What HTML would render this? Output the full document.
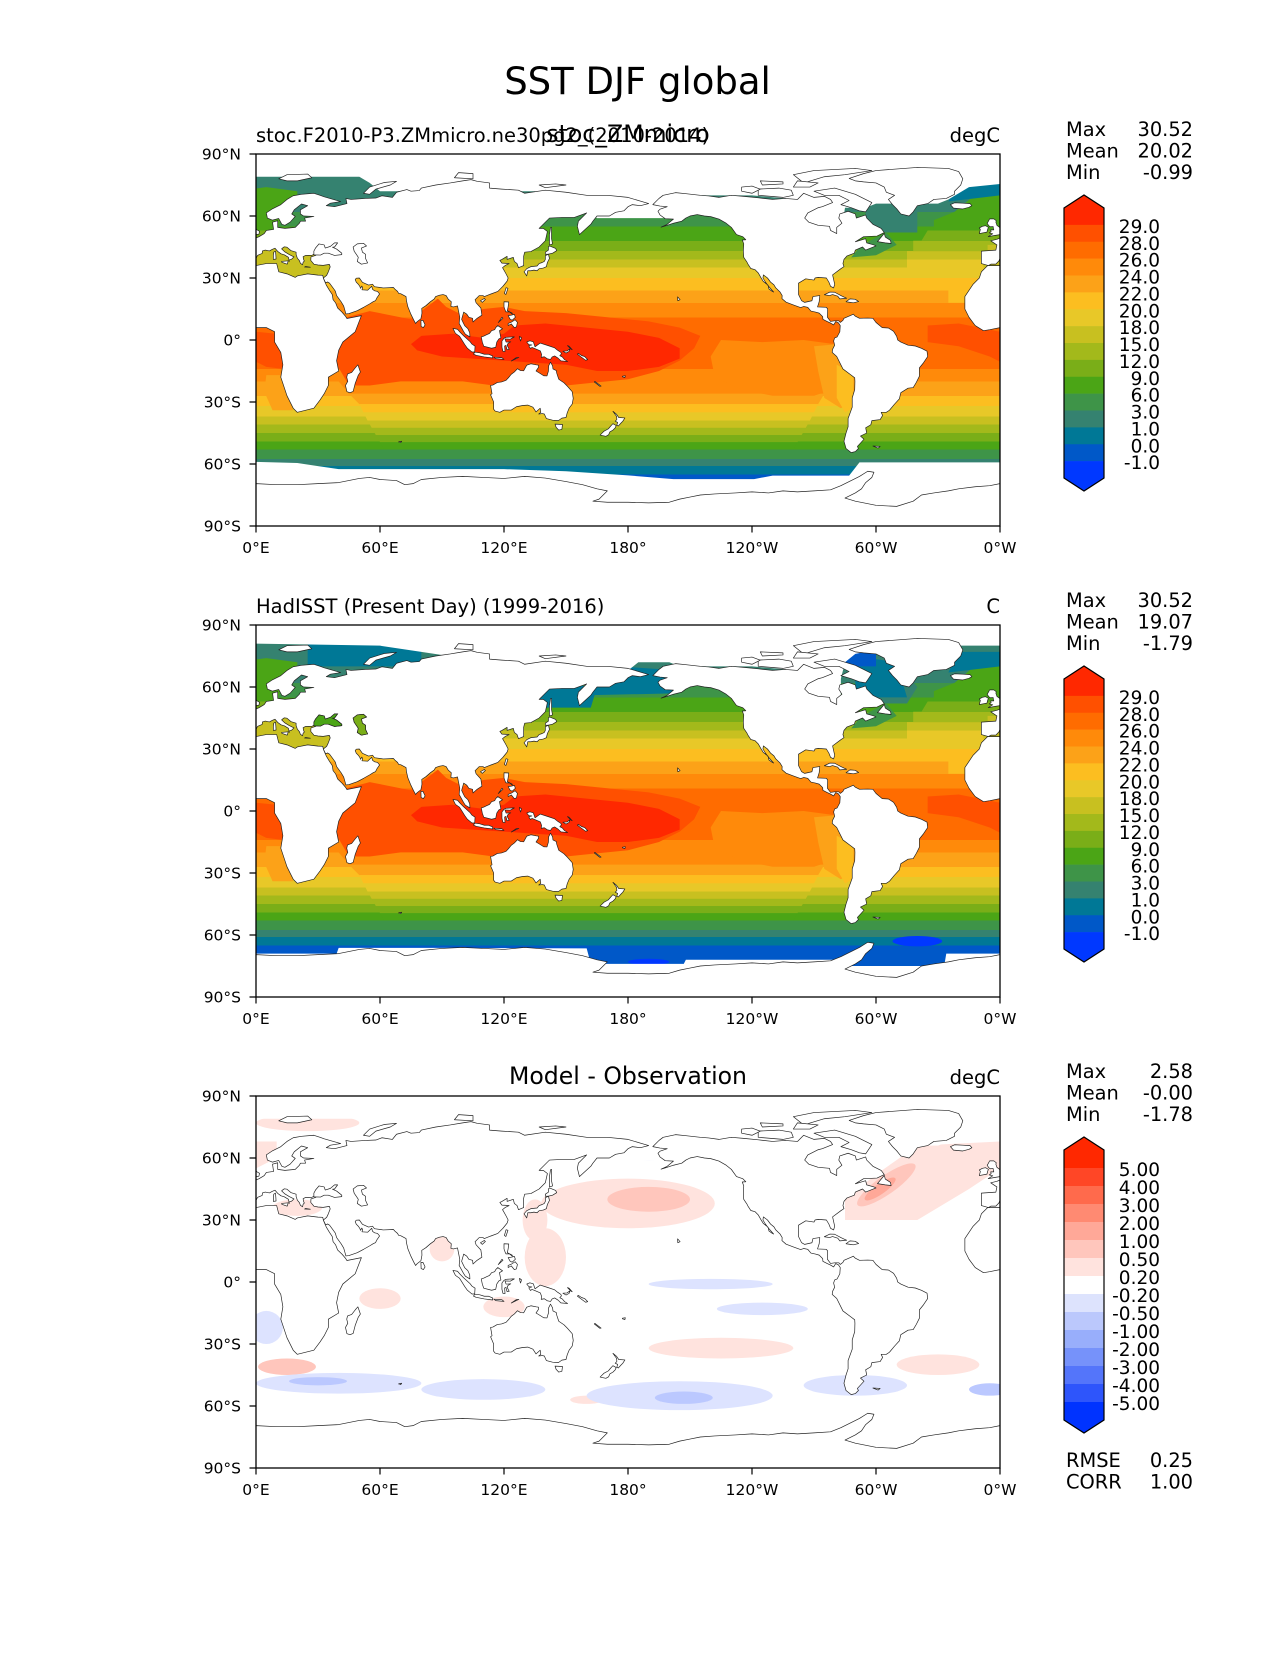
<!DOCTYPE html>
<html><head><meta charset="utf-8">
<style>
html,body{margin:0;padding:0;background:#fff}
svg text{font-family:"DejaVu Sans","Liberation Sans",sans-serif;fill:#000}
</style></head>
<body>
<svg width="1275" height="1650" viewBox="0 0 1275 1650" xmlns="http://www.w3.org/2000/svg">
<defs>
<linearGradient id="zg" gradientUnits="userSpaceOnUse" x1="0" y1="90" x2="0" y2="-90">
<stop offset="0" stop-color="#358270"/><stop offset=".1556" stop-color="#358270"/>
<stop offset=".1556" stop-color="#3e9448"/><stop offset=".1944" stop-color="#3e9448"/>
<stop offset=".1944" stop-color="#4ba516"/><stop offset=".2333" stop-color="#4ba516"/>
<stop offset=".2333" stop-color="#7aae18"/><stop offset=".2611" stop-color="#7aae18"/>
<stop offset=".2611" stop-color="#a3b91b"/><stop offset=".2833" stop-color="#a3b91b"/>
<stop offset=".2833" stop-color="#c8c020"/><stop offset=".3056" stop-color="#c8c020"/>
<stop offset=".3056" stop-color="#e8c828"/><stop offset=".3333" stop-color="#e8c828"/>
<stop offset=".3333" stop-color="#fcbe20"/><stop offset=".3667" stop-color="#fcbe20"/>
<stop offset=".3667" stop-color="#fca218"/><stop offset=".4" stop-color="#fca218"/>
<stop offset=".4" stop-color="#ff8a0a"/><stop offset=".4389" stop-color="#ff8a0a"/>
<stop offset=".4389" stop-color="#ff6c00"/><stop offset=".5778" stop-color="#ff6c00"/>
<stop offset=".5778" stop-color="#ff8a0a"/><stop offset=".6111" stop-color="#ff8a0a"/>
<stop offset=".6111" stop-color="#fca218"/><stop offset=".65" stop-color="#fca218"/>
<stop offset=".65" stop-color="#fcbe20"/><stop offset=".6778" stop-color="#fcbe20"/>
<stop offset=".6778" stop-color="#e8c828"/><stop offset=".7056" stop-color="#e8c828"/>
<stop offset=".7056" stop-color="#c8c020"/><stop offset=".7278" stop-color="#c8c020"/>
<stop offset=".7278" stop-color="#a3b91b"/><stop offset=".75" stop-color="#a3b91b"/>
<stop offset=".75" stop-color="#7aae18"/><stop offset=".7722" stop-color="#7aae18"/>
<stop offset=".7722" stop-color="#4ba516"/><stop offset=".7944" stop-color="#4ba516"/>
<stop offset=".7944" stop-color="#3e9448"/><stop offset=".8194" stop-color="#3e9448"/>
<stop offset=".8194" stop-color="#358270"/><stop offset=".8389" stop-color="#358270"/>
<stop offset=".8389" stop-color="#007896"/><stop offset=".8611" stop-color="#007896"/>
<stop offset=".8611" stop-color="#0058c8"/><stop offset="1" stop-color="#0058c8"/>
</linearGradient>

<g id="shshift">
<polygon fill="#ff8a0a" points="40,-20 275,-20 275,-26 45,-26"/>
<polygon fill="#fca218" points="45,-26 275,-26 272,-31 50,-31"/>
<polygon fill="#fcbe20" points="50,-31 272,-31 270,-35 52,-35"/>
<polygon fill="#e8c828" points="52,-35 270,-35 268,-39 54,-39"/>
<polygon fill="#c8c020" points="54,-39 268,-39 266,-42.5 56,-42.5"/>
<polygon fill="#a3b91b" points="56,-42.5 266,-42.5 264,-46 58,-46"/>
<polygon fill="#7aae18" points="58,-46 264,-46 262,-49.5 60,-49.5"/>
<polygon fill="#4ba516" points="60,-49.5 262,-49.5 260,-53 62,-53"/>
</g>

<g id="trop">
<polygon fill="#ff5000" points="40,10 55,14 65,12 75,10 80,14 88,20 92,16 100,12 110,15 120,16 130,14 150,13 170,11 190,9 205,6 215,2 212,-4 205,-10 195,-15 180,-19 160,-21 150,-22 140,-21 125,-19 115,-22 100,-20 85,-20 70,-20 55,-22 45,-22 38,-10"/>
<polygon fill="#ff2800" points="75,-2 80,2 95,3 110,1 120,3 125,7 140,8 160,6 180,4 195,1 205,-4 205,-9 195,-13 180,-15 165,-15 150,-12 135,-11 120,-10 105,-9 90,-8 78,-5"/>
<polygon fill="#ff8a0a" points="225,0 245,-1 265,0 280,-2 285,-10 285,-22 270,-27 250,-27 235,-24 222,-18 220,-8"/>
<polygon fill="#fca218" points="270,-3 282,-2 287,-8 290,-18 289,-30 283,-33 275,-28 272,-15"/>
<polygon fill="#fcbe20" points="281,-12 289,-16 289,-33 285,-35 281,-28"/>
</g>

<g id="wrapov">
<polygon fill="#e8c828" points="-45,33 -8,33 -8,39 -45,39"/>
<polygon fill="#c8c020" points="-45,39 -5,39 0,43 -45,43"/>
<polygon fill="#a3b91b" points="-42,43 0,43 5,48 -42,48"/>
<polygon fill="#7aae18" points="-38,48 5,48 10,53 -35,53"/>
<polygon fill="#4ba516" points="-32,53 10,53 12,58 20,66 20,72 5,74 -10,72 -22,62 -32,58"/>
<polygon fill="#358270" points="-65,52 -45,52 -40,60 -45,66 -60,66"/>
<polygon fill="#3e9448" points="-72,40 -60,41 -50,46 -55,52 -67,46"/>
<polygon fill="#007896" points="-25,67 0,70 0,77 -20,77"/>
<polygon fill="#ff5000" points="-35,7 -20,8 -10,6 0,4 10,3 12,-4 13,-14 5,-13 -5,-8 -20,-3 -35,-1"/>
<polygon fill="#fca218" points="5,-17 12,-17 16,-28 18,-34 8,-34 4,-25"/>
<polygon fill="#fcbe20" points="-25,18 -16,18 -10,30 -25,30"/>
<polygon fill="#c8c020" points="-6,30 36,30 36,46 -6,46"/>
</g>

<g id="land" fill="#fff" stroke="#222" stroke-width="0.33" stroke-linejoin="round">
<polygon points="-6,36 -9,33 -10,30 -13,27 -17,21 -17,15 -15,11 -12,7 -8,4.5 -5,5 0,6 5,6 9,4 9,-1 12,-6 13,-12 12,-18 15,-27 18,-33 20,-35 28,-33 31,-29 33,-26 35,-22 35,-18 40,-15 39,-10 40,-5 42,-1 48,4 51,11.8 48,11.2 44,10.4 43.3,11.5 41.6,13.5 39.5,15.5 38.5,18 37.3,19.5 36.9,22 35.5,24.1 34,26.6 32.6,29.9 32.3,31.3 30,31.4 25,32 20,31 19,30.3 15,32 11,33 10,37 5,37 0,36"/>
<polygon points="-5.6,36 -9,37 -9,43 -2,43.5 -1.5,46 -4.5,48 -1.5,48.7 1.5,50 4,51.5 5,53 8.5,53.5 8,57 10.5,57.7 10.5,54.5 14,54 19,54.5 21,56.5 21.5,57.5 24,57.5 23.5,59 28,59.8 23,60 21.5,61 21.5,63 25,65 22,65.8 18.5,63 17.3,61 19,59.8 16.5,57 14,55.5 12.5,56 11,58.8 8,58 5.5,59 5,61.5 8,63.5 12,65.5 15,68 18,69.8 22,70.5 28,71 31,70 33,69.3 41,67 36,66.2 34,65 38,64.5 44,66 43.5,68.5 46,68 53,68.5 58,68.7 61,69.8 66,69 68,71.5 73,72.8 75,72 79,72.3 80,73.5 87,75 94,76 100,77 104,77.6 107,76.8 113,76 113,73.5 119,73 127,72.5 130,71 140,72.5 150,71.5 160,70 170,70 180,69 190,66 186,65 182,65.5 180,64.5 178,62.5 174,61.8 171,60 165,60 163,57.5 162,56 156.5,51 155.5,55 156,57.5 160,61.5 154,59.3 148,59.3 142,59 137,54 139,54 141,52.5 140,48 137,45 133,42.8 130,42.5 129.5,40.5 129.5,36 127,35 126.3,37 125,38 124.5,40 121.5,39 121.5,40.5 119,39 118,38.5 119,37.2 122.5,37 120.5,36 119.3,35 121,32 122,30 121.5,28.5 119.5,26 117,23.5 113.5,22.2 110.5,21 109.8,21.5 108,21.5 106,19.5 106.5,18 108.8,15.5 109.3,12 107,10.5 105,8.7 104.8,10.5 103,11 102,12.5 100.5,13.5 99.5,10 100.2,8.5 101,6.9 102.5,5.5 103.4,3.5 103.5,1.5 101.3,2.8 100.4,4.2 98.3,8 98.6,11 97.5,16.5 95.5,16 94.3,16.3 94.5,18.5 93,19.8 92,21.5 90.5,22 88.8,21.7 86.9,21 86.2,19.8 84.5,18.6 82.2,16.6 80.2,15.3 80.3,13 79.8,10.3 78,8.9 77.2,8 76.3,9.7 74.8,12.8 73.5,16 72.8,19 72.6,21 70,22.4 69,22.6 68.5,23.5 67.2,24.6 66.5,25.4 61.6,25.2 57.3,25.8 56.4,27 54.5,26.6 51.5,27.9 50,30 48.5,29.9 48,29.2 48.5,28 49.5,27 50.2,26 50.6,25 51.2,26.1 51.6,25.3 51.3,24.3 54,24.1 56,26 56.4,24.5 57.4,23.8 58.8,23.5 59.8,22.3 58.5,20.4 57.8,19 56.8,18.6 55.2,17.6 52.2,15.9 49,14.2 45,12.8 43.5,12.6 42.7,15.5 42.4,16.5 41.2,18.5 39,21.5 38.4,23.6 37.5,24.9 35.6,27.5 34.6,28.1 34.2,27.8 33.5,28 32.6,30 34.2,31.3 35,33 35.9,35.4 35.5,36.6 32.5,36.1 30,36.3 28,36.7 26.5,38.5 26.6,40.2 29,41 28,41.6 27.2,41 24,40.9 22.8,40.3 23,39 23.4,38.2 22.8,37.6 22.5,36.4 21.5,37.1 21,38.4 20,39.6 19.4,41.4 19.4,42.5 17,43.2 15,44.9 13.7,45.1 12.6,44.3 12.4,44.1 14,42.6 16,41.4 18.4,40.2 17.2,39.1 16.6,38.9 15.9,38.6 16.1,38 15.7,40 13.7,41.2 12.1,41.7 10.5,42.9 9.2,44.4 7.8,43.8 6.5,43.1 4.5,43.5 3.1,43.1 3,41.9 0.8,41 0,39.5 -0.5,38.3 -2,36.7 -4.4,36.7"/>
<polygon points="28,41.2 28,43 28.8,44.5 30.5,46.5 33,46 33.5,44.5 36,45.3 38,47 39.5,47 38,45 37,44.9 39,44 41.5,42 41.5,41.3 38,40.9 35,42 33,42 31.2,41.1"/>
<polygon points="47,45 49,46.5 52,46.8 53.5,45.5 51,44.5 51.5,42.5 53,41.5 53,39.5 54,37.3 51,36.7 49,38 49.5,40 48.5,41.5 47.5,43"/>
<polygon points="12.4,38 15.6,38.3 15.1,36.7 12.5,37.6"/>
<polygon points="8.4,39 9.7,39.2 9.6,41 9.4,43 8.6,42.5 8.4,40.9"/>
<polygon points="23.5,35.3 26.3,35.2 24,35.6"/>
<polygon points="-5.7,50 -3,50.5 1.4,51.2 1.7,52.6 0.3,53.4 -0.2,54.5 -1.5,55.5 -2,57 -1.8,57.7 -3,58.6 -5,58.6 -5.7,57.3 -6.2,56.5 -5.5,55.4 -4.8,54.8 -3.3,54.9 -3.2,53.9 -3,53.3 -4.5,53.3 -4.3,52.4 -5.2,51.8 -3.5,51.4"/>
<polygon points="-10,51.5 -6.3,52.2 -6,53.5 -5.6,54.5 -7,55.3 -8.5,55 -10,54.2 -9.5,53.5"/>
<polygon points="-24,65.5 -22,66.4 -18,66.2 -14.5,66 -13.6,65 -15,64.2 -18,63.4 -22.5,63.8"/>
<polygon points="-73,78.2 -66,80.5 -60,82 -40,83.5 -25,83 -20,81.5 -18,78 -19,75 -22,72 -22,70.5 -26,68.5 -32,68 -35,66 -40,65 -42,62 -44,60 -48,61 -50,63.5 -52,65.5 -54,68 -51,70 -55,71.5 -56,74 -60,76 -66,76.5 -70,77"/>
<polygon points="11,78 15,80 25,80.3 27,78.5 20,77 15,77"/>
<polygon points="52,71 55,74 62,76.2 68,76.8 65,75 58,73 55,70.5"/>
<polygon points="96,78.5 105,78 105,80.5 98,81"/>
<polygon points="137,75 145,75.5 150,75 140,73.7"/>
<polygon points="129.7,33 131,31 131.5,33.5 133,33.5 134.5,33.8 136,33.5 137,34.5 139,34.8 140.5,35.5 141,37.5 142,39.5 141.5,41.5 140,40.8 140,39 139.5,38 138.5,37.5 137,37 136,35.8 133,35.5 131,34.5"/>
<polygon points="140,41.5 141.3,41.5 143.5,42 145.5,43.2 145,44.3 142,45.5 141.5,45 141.5,43.5 140,42.5"/>
<polygon points="142,46 143.5,46.5 143,49 143,52 143,54.5 142.5,54.3 142,51 142,48"/>
<polygon points="120.2,22.5 121,25.3 121.9,25 120.9,22"/>
<polygon points="108.6,19 109.5,18.2 111,19.6 110.5,20.1"/>
<polygon points="120,18.5 122.3,18.4 122,16 121.6,14.2 124,13 124,12.5 122.6,13.6 121,13.6 120.6,14.3 120,16"/>
<polygon points="122,11.8 123,10 124,9.6 125.5,11 125,12.4 123.5,12"/>
<polygon points="122,7 123.5,7.8 125,6 126,6.3 126.5,8.5 125.4,9.8 123.5,8.6 122,8"/>
<polygon points="117.2,8.4 119.5,10.5 119,11"/>
<polygon points="109,1.5 109.5,-1 110.2,-3 114,-4 116,-3.5 116.5,-1 117.5,0.5 118.5,1 117.8,4.5 119.3,5.4 117,7 116,6 115.5,5 114,4.5 113,3.2 111.5,2.5 110,1.8"/>
<polygon points="95.3,5.6 97.5,5.2 98.7,3.8 100.5,2 103.5,-0.7 104.5,-2 106,-3 105.8,-5.8 104.5,-5.8 102.3,-4 101,-2.2 99.5,0.2 98.5,1.8 96.5,3.2"/>
<polygon points="105.2,-6.8 106,-5.9 108.3,-6.2 110.5,-6.9 112.6,-6.9 114.5,-7.7 114.5,-8.7 110.5,-8.2 106.5,-7.4"/>
<polygon points="115,-8.3 119,-8.6 120,-9.4 116,-9"/>
<polygon points="123.5,-10.2 127.2,-8.4 126,-8.5"/>
<polygon points="119.5,-5.5 119,-3.5 119,-0.5 120,0.8 121,1.3 124.5,1.5 125,1.5 123,0.4 120.5,0.5 121,-1 123.3,-0.9 122,-1.6 121.5,-2.5 122.5,-4.5 121.5,-4.7 120.9,-2.6 120.3,-2.9 120.5,-5.6"/>
<polygon points="127.5,1.8 128.5,1 128,-0.5 127.7,0.5"/>
<polygon points="131,-1 132.5,-0.4 134.2,-0.9 135,-3.3 137.5,-1.5 141,-2.6 144.5,-3.8 146,-5 147.5,-6 147.8,-6.7 147,-7.6 148.2,-8.2 149.3,-9.5 150.8,-10.4 149.7,-10.3 147.5,-10.1 146.2,-8.8 144.5,-7.7 143.3,-8.2 142.5,-9.4 141,-9.1 139.5,-8.1 138,-8.4 138.2,-7 137.6,-5.3 135.5,-4.4 133.6,-3.6 132.8,-4.1 132,-2.8 133.5,-2.4 132,-2.2"/>
<polygon points="148.5,-5.4 150.5,-5.3 152,-4.2 151.5,-5.5 150,-6.3"/>
<polygon points="150.7,-2.7 152.5,-4.5 153,-4.7 151.5,-3"/>
<polygon points="156,-6.5 157.5,-7.5 159,-8 160.5,-9.5 159.5,-9.8 157,-8 155.5,-6.8"/>
<polygon points="164,-20 167,-22.3 166.4,-22.4 163.7,-20.3"/>
<polygon points="177.3,-17.5 178.7,-17.3 178.5,-18.2 177.3,-17.8"/>
<polygon points="113.5,-22 114.2,-26 113.5,-26.5 115,-30 115,-33.5 115.7,-34.4 118,-35 120,-33.9 123.5,-33.9 126,-32.3 129,-31.7 131.5,-31.5 134,-32.5 135.5,-34.8 137.5,-33 137.8,-35 136.8,-35.8 138.5,-35.6 139.5,-35.8 140.5,-38 143.5,-38.8 146.3,-39 148,-37.8 150,-37.5 150.6,-35.2 151.5,-33 153,-31 153.5,-28.3 153,-25 150.8,-22.5 149,-20.7 146.5,-19 145.5,-16 145.3,-14.8 143.7,-14 143.5,-12.5 142.5,-10.7 141.6,-12.5 141.5,-15 140.8,-17.4 139.2,-17.3 137.5,-16.2 135.5,-15 136.7,-13.2 136.7,-12.2 135.5,-12 133,-11.5 131,-12.2 129.5,-14.9 128,-14.8 126.5,-13.9 125,-15.5 123.5,-16.6 122.2,-18.2 121,-19.5 118.8,-20.3 116.7,-20.6 114.6,-21.8"/>
<polygon points="144.7,-40.7 148.3,-40.9 148,-43.2 146.5,-43.6 145.2,-42.2"/>
<polygon points="172.7,-34.5 174.5,-36 175.5,-37.5 178.5,-37.7 177.5,-39.3 176.8,-40 175.3,-41.6 174.6,-41.2 175,-39.9 173.8,-39.3 174.6,-38.5 174.5,-37"/>
<polygon points="172.7,-40.5 174.3,-41.4 173.8,-42.5 172.7,-43.6 171.2,-44.5 170.6,-45.9 169.3,-46.6 166.5,-46 168.3,-44.2 170.5,-43 171.5,-41.8"/>
<polygon points="43.3,-22 44,-25 45.5,-25.5 47,-24.9 48,-21 49.5,-17 50.5,-15.5 49.3,-12 48,-13.5 46.3,-15.7 44.3,-16.4 43.9,-18 44.4,-20"/>
<polygon points="79.9,6.5 79.8,9.5 80.8,9.5 81.8,7.3 81,6"/>
<polygon points="69,-49.3 70.5,-49 70,-49.7"/>
<polygon points="-168,65.5 -165,68.5 -163,70 -157,71.3 -152,70.8 -145,70 -141,69.7 -136,69 -130,70 -124,69.5 -117,68.8 -110,68 -104,68.5 -98,68 -95,71 -90,69 -85,69.5 -82,68 -81,66.5 -86,64.5 -88,64 -93,61.5 -94.5,59 -92.5,57 -88,55.5 -82.5,55 -82,53 -79,51.5 -79,54.5 -76.5,56.5 -78,59 -77.5,61 -73.5,62.3 -70,61 -69.5,59 -65,60.5 -64.5,59 -61.5,56 -57.5,54 -56,52 -59.5,50.3 -66,50 -70,47.5 -65,49 -64.5,47 -61,46 -60,45.5 -65,43.5 -66.5,45 -70,43.5 -70.5,42 -74,40.7 -75.5,39 -76,37 -75.5,35.5 -77,34.5 -81,31.5 -80,27 -80.5,25.2 -82,26 -82.8,28 -84,30 -88,30.3 -89.5,30 -90,29 -94,29.6 -97.5,27.5 -97.5,25 -97.5,22 -96,19 -94.5,18.2 -91,19 -90.5,21 -87.2,21.5 -87.5,18.5 -88.3,16 -84,15.8 -83.4,15 -83.5,11 -82,9 -80,9.3 -78,9.3 -77.3,8.5 -76,9.5 -75.5,10.5 -72,12 -71,12.5 -70,11.5 -68,10.5 -64,10.6 -61.5,10.5 -60,8.5 -57,6 -54,5.8 -51.5,4.2 -50,1.8 -49.5,0 -48,-1 -44.5,-2.5 -41,-2.9 -38,-4 -35.3,-5.4 -35,-8 -37,-11 -39,-13.5 -39,-17.5 -40.5,-20.5 -42,-23 -44.5,-23.3 -48,-25.5 -48.7,-28.5 -51,-31 -53.5,-34 -55,-35 -57.5,-35 -56.8,-36.5 -58,-38.5 -62,-39 -62.5,-41 -65,-42.5 -64.5,-45 -67.5,-46.5 -65.8,-48 -69,-51.5 -68.5,-52.5 -70,-54 -72,-54.5 -74.5,-52.5 -75.5,-49 -74.5,-45 -73.5,-42 -73.5,-38 -71.5,-32.5 -71.5,-28 -70.3,-24 -70.2,-20 -70.3,-18.3 -72,-17 -76,-14 -77,-12 -79,-8 -81.2,-6 -81,-4.5 -80,-2.5 -80.5,-0.5 -80,1 -78.8,1.5 -77.5,4 -77.3,7 -78.2,8.3 -79.5,8.9 -80.5,7.3 -82,8.2 -83.7,9 -85.7,10 -85.8,11.3 -87.5,13 -89.3,13.5 -91.5,14 -93,15.8 -95,16.2 -96.5,15.7 -99.5,16.8 -103.5,18.3 -105.5,20 -105.4,21.5 -106.5,23.3 -108.5,25.2 -109.4,26.7 -111,28 -112.5,30 -114.5,31.5 -114.7,30 -113.5,28 -112,26 -110.5,24.3 -109.5,23.2 -110.3,23.6 -111.8,24.7 -112.2,26.5 -114.5,28.3 -115.7,30.2 -117,32.5 -118.5,34 -120.6,34.6 -121.9,36.6 -122.5,37.8 -124,40 -124.2,43 -124,46.5 -124.7,48.4 -123,48.5 -124.5,50 -127.5,51 -130,54.5 -132.5,56.5 -136,58.5 -140,59.7 -143,60 -146.5,60.7 -150,60 -152,59 -154,57.5 -158,56.5 -162,55.2 -164,54.6 -161,56 -158,58.5 -162,58.7 -164.5,60.5 -165.5,62.3 -164.5,63.3 -161,64.5 -164.5,64.8"/>
<polygon points="-90,72 -80,73.5 -70,70.5 -67,69 -62,66.5 -64,63.5 -65,62 -68,62.5 -72,64 -77,65.5 -73,67.5 -78,70 -85,70"/>
<polygon points="-95,76 -85,79 -75,80 -62,82 -70,83 -90,82 -100,80"/>
<polygon points="-117,70 -105,69 -100,70 -101,72.5 -107,73.5 -117,73"/>
<polygon points="-125,72 -120,71 -116,73 -120,74.5 -125,74"/>
<polygon points="-100,74 -92,74 -88,76 -98,77"/>
<polygon points="-115,75 -105,75.5 -105,76.5 -116,77"/>
<polygon points="-85,21.9 -82.3,23.2 -80,23.1 -77,21.5 -74.2,20.2 -77.5,19.9 -78.5,21.2 -81,22 -82.5,21.5"/>
<polygon points="-74.5,18.5 -72.6,19.9 -70,19.7 -68.4,18.6 -71,18 -72.5,18.2"/>
<polygon points="-59.3,47.6 -56,51.6 -55.5,49.8 -53,48.2 -52.7,46.7 -55.5,47"/>
<polygon points="-156,20.9 -154.8,19.5 -155.9,19"/>
<polygon points="-61.5,-51.3 -58,-51.5 -59,-52.3"/>
</g>

<polygon id="ant" fill="#fff" stroke="#222" stroke-width="0.33" stroke-linejoin="round" points="0,-69.5 10,-70 20,-70 30,-69.5 40,-69 50,-67 55,-66.5 60,-67.5 68,-68 72,-70 76,-69.5 80,-67.5 90,-66.5 100,-66 110,-66.5 120,-67 130,-66 140,-66.8 150,-68.5 158,-70 165,-72 170,-73 166,-77 163,-78 170,-78.5 175,-78.5 180,-78.5 190,-78.8 200,-78.5 205,-77 210,-76 215,-75 222,-74.5 232,-74 240,-73.5 248,-74 255,-73 262,-73.5 270,-73 278,-72.5 283,-70.5 288,-68 292,-66 296,-63.5 299,-64 298,-66.5 295,-69 293,-72 290,-74 285,-76.5 290,-78 300,-80 310,-80.5 318,-78 322,-75 328,-74 335,-73 340,-72 348,-71 355,-70.5 360,-69.5 360,-90 0,-90"/>
</defs>

<!-- Suptitle -->
<text x="637.5" y="94" font-size="37" text-anchor="middle">SST DJF global</text>

<!-- ============ PANEL 1 ============ -->
<svg x="256" y="154" width="744" height="372" viewBox="0 0 360 180" preserveAspectRatio="none">
<g transform="translate(0,90) scale(1,-1)">
<rect x="0" y="-90" width="360" height="180" fill="url(#zg)"/>
<use href="#shshift"/>
<use href="#trop"/>
<use href="#wrapov"/><use href="#wrapov" transform="translate(360,0)"/>
<polygon fill="#358270" points="295,52 320,52 320,66 295,66"/>
<polygon fill="#fff" points="0,90 360,90 360,75.5 345,74 335,68 330,66 300,66 295,64 285,64 283,51 265,51 262,68 240,70 210,70 205,59 165,59 160,62 140,62 135,72 60,72 55,76 50,79 0,79"/>
<polygon fill="#fff" points="0,-59 20,-59.5 30,-61 40,-62.5 96,-62.5 120,-62.5 150,-63.5 180,-65.5 202,-67.3 241,-67.3 250,-65.6 287,-65.6 292,-59.2 360,-59.2 360,-90 0,-90"/>
<use href="#land"/><use href="#land" transform="translate(360,0)"/>
<use href="#ant"/>
</g>
</svg>
<rect x="256" y="154" width="744" height="372" fill="none" stroke="#000" stroke-width="1.3"/>

<!-- ============ PANEL 2 ============ -->
<svg x="256" y="625" width="744" height="372" viewBox="0 0 360 180" preserveAspectRatio="none">
<g transform="translate(0,90) scale(1,-1)">
<rect x="0" y="-90" width="360" height="180" fill="url(#zg)"/>
<use href="#shshift"/>
<use href="#trop"/>
<use href="#wrapov"/><use href="#wrapov" transform="translate(360,0)"/>
<polygon fill="#007896" points="135,50 162,50 165,60 140,62"/>
<polygon fill="#007896" points="160,56 205,57 205,68 175,70"/>
<polygon fill="#007896" points="25,70 80,70 80,82 25,82"/>
<polygon fill="#007896" points="290,55 315,55 310,72 290,75"/>
<polygon fill="#0058c8" points="280,70 300,70 300,78 280,78"/>
<ellipse fill="#0038ff" cx="320" cy="-63" rx="12" ry="2.5"/>
<ellipse fill="#0038ff" cx="190" cy="-73" rx="10" ry="1.5"/>
<polygon fill="#fff" points="0,90 360,90 360,80 340,80 300,78 290,76 285,72 283,64 283,51 265,51 262,68 240,70 205,70 200,72 185,72 180,68 140,68 100,74 80,77 60,80 0,81"/>
<polygon fill="#fff" points="0,-69 39,-69 40,-66.2 96,-66.2 160,-66.5 162,-74 207,-74 208,-72 287,-72 288,-75 333,-75 334,-69 360,-69 360,-90 0,-90"/>
<use href="#land"/><use href="#land" transform="translate(360,0)"/>
<use href="#ant"/>
<polygon fill="#4ba516" stroke="#222" stroke-width="0.33" points="28,41.2 28,43 28.8,44.5 30.5,46.5 33,46 33.5,44.5 36,45.3 38,47 39.5,47 38,45 37,44.9 39,44 41.5,42 41.5,41.3 38,40.9 35,42 33,42 31.2,41.1"/>
<polygon fill="#7aae18" stroke="#222" stroke-width="0.33" points="47,45 49,46.5 52,46.8 53.5,45.5 51,44.5 51.5,42.5 53,41.5 53,39.5 54,37.3 51,36.7 49,38 49.5,40 48.5,41.5 47.5,43"/>
</g>
</svg>
<rect x="256" y="625" width="744" height="372" fill="none" stroke="#000" stroke-width="1.3"/>

<!-- ============ PANEL 3 ============ -->
<svg x="256" y="1096" width="744" height="372" viewBox="0 0 360 180" preserveAspectRatio="none">
<g transform="translate(0,90) scale(1,-1)">
<rect x="0" y="-90" width="360" height="180" fill="#fff"/>
<ellipse cx="180" cy="38" rx="42" ry="12" fill="#ffe3de"/>
<ellipse cx="190" cy="40" rx="20" ry="6" fill="#ffc6bc"/>
<ellipse cx="140" cy="12" rx="10" ry="14" fill="#ffe3de"/>
<ellipse cx="135" cy="30" rx="6" ry="10" fill="#ffe3de"/>
<polygon fill="#ffe3de" points="285,30 320,30 345,45 360,55 360,68 320,66 300,52 285,40"/>
<polygon fill="#ffe3de" points="0,55 10,60 10,68 0,68"/>
<ellipse cx="305" cy="47" rx="17" ry="4.5" transform="rotate(35 305 47)" fill="#ffc6bc"/>
<ellipse cx="302" cy="45" rx="9" ry="2.5" transform="rotate(35 302 45)" fill="#ffa898"/>
<ellipse cx="25" cy="77" rx="25" ry="4" fill="#ffe3de"/>
<ellipse cx="20" cy="36" rx="12" ry="4" fill="#ffe3de"/>
<ellipse cx="90" cy="16" rx="6" ry="6" fill="#ffe3de"/>
<ellipse cx="60" cy="-8" rx="10" ry="5" fill="#ffe3de"/>
<ellipse cx="120" cy="-12" rx="10" ry="5" fill="#ffe3de"/>
<ellipse cx="15" cy="-41" rx="14" ry="4" fill="#ffc6bc"/>
<ellipse cx="225" cy="-32" rx="35" ry="5" fill="#ffe3de"/>
<ellipse cx="330" cy="-40" rx="20" ry="5" fill="#ffe3de"/>
<ellipse cx="160" cy="-57" rx="8" ry="2" fill="#ffe3de"/>
<ellipse cx="40" cy="-49" rx="40" ry="5" fill="#dde3ff"/>
<ellipse cx="30" cy="-48" rx="14" ry="2" fill="#bbc8ff"/>
<ellipse cx="110" cy="-52" rx="30" ry="5" fill="#dde3ff"/>
<ellipse cx="205" cy="-55" rx="45" ry="7" fill="#dde3ff"/>
<ellipse cx="207" cy="-56" rx="14" ry="3" fill="#bbc8ff"/>
<ellipse cx="290" cy="-50" rx="25" ry="5" fill="#dde3ff"/>
<ellipse cx="355" cy="-52" rx="10" ry="3" fill="#bbc8ff"/>
<ellipse cx="220" cy="-1" rx="30" ry="2.5" fill="#dde3ff"/>
<ellipse cx="245" cy="-13" rx="22" ry="3" fill="#dde3ff"/>
<ellipse cx="5" cy="-22" rx="8" ry="8" fill="#dde3ff"/>
<ellipse cx="190" cy="62" rx="15" ry="3" fill="#dde3ff"/>
<polygon fill="#fff" points="0,90 360,90 360,75.5 345,74 335,68 330,66 300,66 295,64 285,64 283,51 265,51 262,68 240,70 210,70 205,59 165,59 160,62 140,62 135,72 60,72 55,76 50,79 0,79"/>
<polygon fill="#fff" points="0,-59 20,-59.5 30,-61 40,-62.5 96,-62.5 120,-62.5 150,-63.5 180,-65.5 202,-67.3 241,-67.3 250,-65.6 287,-65.6 292,-59.2 360,-59.2 360,-90 0,-90"/>
<use href="#land"/><use href="#land" transform="translate(360,0)"/>
<use href="#ant"/>
</g>
</svg>
<rect x="256" y="1096" width="744" height="372" fill="none" stroke="#000" stroke-width="1.3"/>

<!-- ============ TICKS ============ -->
<g stroke="#000" stroke-width="1.2">
<path d="M249.5 154H256M249.5 216H256M249.5 278H256M249.5 340H256M249.5 402H256M249.5 464H256M249.5 526H256"/>
<path d="M256 526V532.5M380 526V532.5M504 526V532.5M628 526V532.5M752 526V532.5M876 526V532.5M1000 526V532.5"/>
<path d="M249.5 625H256M249.5 687H256M249.5 749H256M249.5 811H256M249.5 873H256M249.5 935H256M249.5 997H256"/>
<path d="M256 997V1003.5M380 997V1003.5M504 997V1003.5M628 997V1003.5M752 997V1003.5M876 997V1003.5M1000 997V1003.5"/>
<path d="M249.5 1096H256M249.5 1158H256M249.5 1220H256M249.5 1282H256M249.5 1344H256M249.5 1406H256M249.5 1468H256"/>
<path d="M256 1468V1474.5M380 1468V1474.5M504 1468V1474.5M628 1468V1474.5M752 1468V1474.5M876 1468V1474.5M1000 1468V1474.5"/>
</g>

<g font-size="15.5" text-anchor="end">
<text x="241" y="159.5">90°N</text><text x="241" y="221.5">60°N</text><text x="241" y="283.5">30°N</text><text x="241" y="345.5">0°</text><text x="241" y="407.5">30°S</text><text x="241" y="469.5">60°S</text><text x="241" y="531.5">90°S</text>
<text x="241" y="630.5">90°N</text><text x="241" y="692.5">60°N</text><text x="241" y="754.5">30°N</text><text x="241" y="816.5">0°</text><text x="241" y="878.5">30°S</text><text x="241" y="940.5">60°S</text><text x="241" y="1002.5">90°S</text>
<text x="241" y="1101.5">90°N</text><text x="241" y="1163.5">60°N</text><text x="241" y="1225.5">30°N</text><text x="241" y="1287.5">0°</text><text x="241" y="1349.5">30°S</text><text x="241" y="1411.5">60°S</text><text x="241" y="1473.5">90°S</text>
</g>
<g font-size="15.5" text-anchor="middle">
<text x="256" y="553">0°E</text><text x="380" y="553">60°E</text><text x="504" y="553">120°E</text><text x="628" y="553">180°</text><text x="752" y="553">120°W</text><text x="876" y="553">60°W</text><text x="1000" y="553">0°W</text>
<text x="256" y="1024">0°E</text><text x="380" y="1024">60°E</text><text x="504" y="1024">120°E</text><text x="628" y="1024">180°</text><text x="752" y="1024">120°W</text><text x="876" y="1024">60°W</text><text x="1000" y="1024">0°W</text>
<text x="256" y="1495">0°E</text><text x="380" y="1495">60°E</text><text x="504" y="1495">120°E</text><text x="628" y="1495">180°</text><text x="752" y="1495">120°W</text><text x="876" y="1495">60°W</text><text x="1000" y="1495">0°W</text>
</g>

<!-- Titles -->
<text x="256" y="142" font-size="19.5">stoc.F2010-P3.ZMmicro.ne30pg2_(2010-2014)</text>
<text x="628" y="142" font-size="23.6" text-anchor="middle">stoc_ZMmicro</text>
<text x="1000" y="142" font-size="19.5" text-anchor="end">degC</text>
<text x="256" y="613" font-size="19.5">HadISST (Present Day) (1999-2016)</text>
<text x="1000" y="613" font-size="19.5" text-anchor="end">C</text>
<text x="628" y="1084" font-size="23.6" text-anchor="middle">Model - Observation</text>
<text x="1000" y="1084" font-size="19.5" text-anchor="end">degC</text>

<!-- Stats -->
<g font-size="19.4">
<text x="1066" y="136">Max</text><text x="1066" y="157.5">Mean</text><text x="1066" y="179">Min</text>
<text x="1193" y="136" text-anchor="end">30.52</text><text x="1193" y="157.5" text-anchor="end">20.02</text><text x="1193" y="179" text-anchor="end">-0.99</text>
<text x="1066" y="607">Max</text><text x="1066" y="628.5">Mean</text><text x="1066" y="650">Min</text>
<text x="1193" y="607" text-anchor="end">30.52</text><text x="1193" y="628.5" text-anchor="end">19.07</text><text x="1193" y="650" text-anchor="end">-1.79</text>
<text x="1066" y="1078">Max</text><text x="1066" y="1099.5">Mean</text><text x="1066" y="1121">Min</text>
<text x="1193" y="1078" text-anchor="end">2.58</text><text x="1193" y="1099.5" text-anchor="end">-0.00</text><text x="1193" y="1121" text-anchor="end">-1.78</text>
<text x="1066" y="1467">RMSE</text><text x="1066" y="1488.5">CORR</text>
<text x="1193" y="1467" text-anchor="end">0.25</text><text x="1193" y="1488.5" text-anchor="end">1.00</text>
</g>

<!-- Colorbar 1 -->
<g transform="translate(2,0)">
<polygon points="1062,208.5 1082,195 1102,208.5" fill="#ff2800"/>
<rect x="1062" y="208" width="40" height="17.2" fill="#ff2800"/>
<rect x="1062" y="224.875" width="40" height="17.2" fill="#ff5000"/>
<rect x="1062" y="241.75" width="40" height="17.2" fill="#ff6c00"/>
<rect x="1062" y="258.625" width="40" height="17.2" fill="#ff8a0a"/>
<rect x="1062" y="275.5" width="40" height="17.2" fill="#fca218"/>
<rect x="1062" y="292.375" width="40" height="17.2" fill="#fcbe20"/>
<rect x="1062" y="309.25" width="40" height="17.2" fill="#e8c828"/>
<rect x="1062" y="326.125" width="40" height="17.2" fill="#c8c020"/>
<rect x="1062" y="343" width="40" height="17.2" fill="#a3b91b"/>
<rect x="1062" y="359.875" width="40" height="17.2" fill="#7aae18"/>
<rect x="1062" y="376.75" width="40" height="17.2" fill="#4ba516"/>
<rect x="1062" y="393.625" width="40" height="17.2" fill="#3e9448"/>
<rect x="1062" y="410.5" width="40" height="17.2" fill="#358270"/>
<rect x="1062" y="427.375" width="40" height="17.2" fill="#007896"/>
<rect x="1062" y="444.25" width="40" height="17.2" fill="#0058c8"/>
<rect x="1062" y="461.125" width="40" height="17" fill="#0038ff"/>
<polygon points="1062,477.5 1082,491 1102,477.5" fill="#0038ff"/>
<polygon points="1062,208 1082,195 1102,208 1102,478 1082,491 1062,478" fill="none" stroke="#000" stroke-width="1.2"/>
</g>
<g font-size="18.5" text-anchor="end">
<text x="1160" y="232.9">29.0</text><text x="1160" y="249.8">28.0</text><text x="1160" y="266.6">26.0</text><text x="1160" y="283.5">24.0</text><text x="1160" y="300.4">22.0</text><text x="1160" y="317.3">20.0</text><text x="1160" y="334.1">18.0</text><text x="1160" y="351">15.0</text><text x="1160" y="367.9">12.0</text><text x="1160" y="384.8">9.0</text><text x="1160" y="401.6">6.0</text><text x="1160" y="418.5">3.0</text><text x="1160" y="435.4">1.0</text><text x="1160" y="452.3">0.0</text><text x="1160" y="469.1">-1.0</text>
</g>

<!-- Colorbar 2 -->
<g transform="translate(2,0)">
<polygon points="1062,679.5 1082,666 1102,679.5" fill="#ff2800"/>
<rect x="1062" y="679" width="40" height="17.2" fill="#ff2800"/>
<rect x="1062" y="695.875" width="40" height="17.2" fill="#ff5000"/>
<rect x="1062" y="712.75" width="40" height="17.2" fill="#ff6c00"/>
<rect x="1062" y="729.625" width="40" height="17.2" fill="#ff8a0a"/>
<rect x="1062" y="746.5" width="40" height="17.2" fill="#fca218"/>
<rect x="1062" y="763.375" width="40" height="17.2" fill="#fcbe20"/>
<rect x="1062" y="780.25" width="40" height="17.2" fill="#e8c828"/>
<rect x="1062" y="797.125" width="40" height="17.2" fill="#c8c020"/>
<rect x="1062" y="814" width="40" height="17.2" fill="#a3b91b"/>
<rect x="1062" y="830.875" width="40" height="17.2" fill="#7aae18"/>
<rect x="1062" y="847.75" width="40" height="17.2" fill="#4ba516"/>
<rect x="1062" y="864.625" width="40" height="17.2" fill="#3e9448"/>
<rect x="1062" y="881.5" width="40" height="17.2" fill="#358270"/>
<rect x="1062" y="898.375" width="40" height="17.2" fill="#007896"/>
<rect x="1062" y="915.25" width="40" height="17.2" fill="#0058c8"/>
<rect x="1062" y="932.125" width="40" height="17" fill="#0038ff"/>
<polygon points="1062,948.5 1082,962 1102,948.5" fill="#0038ff"/>
<polygon points="1062,679 1082,666 1102,679 1102,949 1082,962 1062,949" fill="none" stroke="#000" stroke-width="1.2"/>
</g>
<g font-size="18.5" text-anchor="end">
<text x="1160" y="703.9">29.0</text><text x="1160" y="720.8">28.0</text><text x="1160" y="737.6">26.0</text><text x="1160" y="754.5">24.0</text><text x="1160" y="771.4">22.0</text><text x="1160" y="788.3">20.0</text><text x="1160" y="805.1">18.0</text><text x="1160" y="822">15.0</text><text x="1160" y="838.9">12.0</text><text x="1160" y="855.8">9.0</text><text x="1160" y="872.6">6.0</text><text x="1160" y="889.5">3.0</text><text x="1160" y="906.4">1.0</text><text x="1160" y="923.3">0.0</text><text x="1160" y="940.1">-1.0</text>
</g>

<!-- Colorbar 3 -->
<g transform="translate(2,0)">
<polygon points="1062,1150.5 1082,1137 1102,1150.5" fill="#ff2800"/>
<rect x="1062" y="1150" width="40" height="18.3" fill="#ff2800"/>
<rect x="1062" y="1168" width="40" height="18.3" fill="#ff4626"/>
<rect x="1062" y="1186" width="40" height="18.3" fill="#ff6a4c"/>
<rect x="1062" y="1204" width="40" height="18.3" fill="#ff8a72"/>
<rect x="1062" y="1222" width="40" height="18.3" fill="#ffa898"/>
<rect x="1062" y="1240" width="40" height="18.3" fill="#ffc6bc"/>
<rect x="1062" y="1258" width="40" height="18.3" fill="#ffe3de"/>
<rect x="1062" y="1276" width="40" height="18.3" fill="#ffffff"/>
<rect x="1062" y="1294" width="40" height="18.3" fill="#dde3fd"/>
<rect x="1062" y="1312" width="40" height="18.3" fill="#bbc8fc"/>
<rect x="1062" y="1330" width="40" height="18.3" fill="#98aefb"/>
<rect x="1062" y="1348" width="40" height="18.3" fill="#7692fa"/>
<rect x="1062" y="1366" width="40" height="18.3" fill="#5475fa"/>
<rect x="1062" y="1384" width="40" height="18.3" fill="#2e55fb"/>
<rect x="1062" y="1402" width="40" height="18" fill="#0033ff"/>
<polygon points="1062,1419.5 1082,1433 1102,1419.5" fill="#0033ff"/>
<polygon points="1062,1150 1082,1137 1102,1150 1102,1420 1082,1433 1062,1420" fill="none" stroke="#000" stroke-width="1.2"/>
</g>
<g font-size="18.5" text-anchor="end">
<text x="1160" y="1176">5.00</text><text x="1160" y="1194">4.00</text><text x="1160" y="1212">3.00</text><text x="1160" y="1230">2.00</text><text x="1160" y="1248">1.00</text><text x="1160" y="1266">0.50</text><text x="1160" y="1284">0.20</text><text x="1160" y="1302">-0.20</text><text x="1160" y="1320">-0.50</text><text x="1160" y="1338">-1.00</text><text x="1160" y="1356">-2.00</text><text x="1160" y="1374">-3.00</text><text x="1160" y="1392">-4.00</text><text x="1160" y="1410">-5.00</text>
</g>
</svg>
</body></html>
